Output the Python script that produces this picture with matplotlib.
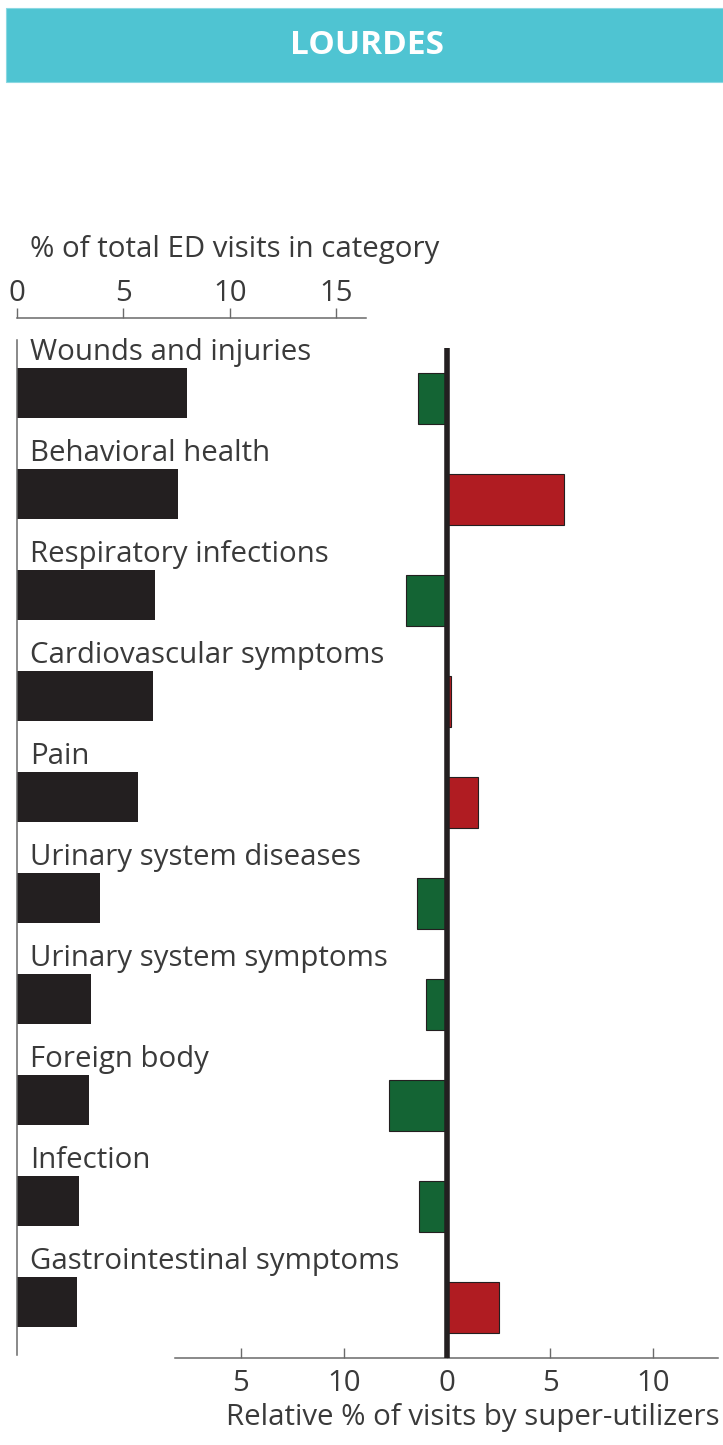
import matplotlib.pyplot as plt
from matplotlib.patches import Rectangle

# data
categories = ["Wounds and injuries", "Behavioral health", "Respiratory infections",
              "Cardiovascular symptoms", "Pain", "Urinary system diseases",
              "Urinary system symptoms", "Foreign body", "Infection",
              "Gastrointestinal symptoms"]
share = [8.0, 7.55, 6.5, 6.4, 5.7, 3.9, 3.5, 3.4, 2.9, 2.8]
relative = [-1.4, 5.7, -2.0, 0.2, 1.5, -1.45, -1.0, -2.8, -1.35, 2.5]
top_ticks = [0, 5, 10, 15]
bottom_ticks = [-10, -5, 0, 5, 10]
bottom_labels = ["5", "10", "0", "5", "10"]

W, H = 723, 1445
plt.rcParams['font.family'] = ['Open Sans', 'DejaVu Sans']
txt = "#3a3a3a"
axcol = "#6a6a6a"
dark = "#231f20"
green = "#146434"
red = "#b01c22"
fs = 21.2

fig = plt.figure(figsize=(W / 100, H / 100), dpi=100)

# title banner
fig.patches.append(Rectangle((6 / W, 1 - 82 / H), 717 / W, 74 / H, transform=fig.transFigure,
                             facecolor="#4fc4d2", edgecolor="#8ad8e2", lw=0.8))
fig.text(367 / W, 1 - 46 / H, "LOURDES", color="white", fontsize=24, fontweight="bold",
         ha="center", va="center")

# left: share of visits
ax1 = fig.add_axes([17 / W, 1 - 1355 / H, (366 - 17) / W, (1355 - 340) / H])
y = list(range(len(categories)))
ax1.barh(y, share, height=0.5, color=dark)
ax1.set_xlim(0, 16.4)
ax1.set_ylim(9.525, -0.525)
for i, c in enumerate(categories):
    ax1.text(0.6, i - 0.4, c, fontsize=fs, color=txt, va="center", ha="left", clip_on=False)
ax1.xaxis.tick_top()
ax1.set_xticks(top_ticks)
ax1.tick_params(axis="x", direction="out", length=7, width=1, color=axcol,
                labelsize=fs, labelcolor=txt, pad=0)
ax1.set_yticks([])
for s in ["bottom", "right"]:
    ax1.spines[s].set_visible(False)
ax1.spines["top"].set_position(("outward", 16))
ax1.spines["top"].set_color(axcol)
ax1.spines["left"].set_color(axcol)
ax1.spines["top"].set_linewidth(1.1)
ax1.spines["left"].set_linewidth(1.1)
ax1.patch.set_alpha(0)
fig.text(30 / W, 1 - 250 / H, "% of total ED visits in category", fontsize=fs, color=txt,
         va="center", ha="left")

# right: relative share by super-utilizers
ax2 = fig.add_axes([175 / W, 1 - 1358 / H, (718 - 175) / W, (1358 - 348) / H])
cols = [green if v < 0 else red for v in relative]
ax2.barh(y, relative, height=0.5, color=cols, edgecolor=dark, linewidth=0.8, zorder=2)
ax2.axvline(0, color=dark, lw=4, zorder=3)
ax2.set_xlim(-13.2, 13.15)
ax2.set_ylim(9.5, -0.5)
ax2.set_xticks(bottom_ticks)
ax2.set_xticklabels(bottom_labels)
ax2.tick_params(axis="x", direction="in", length=7, width=1, color=axcol,
                labelsize=fs, labelcolor=txt, pad=8)
ax2.set_yticks([])
for s in ["top", "right", "left"]:
    ax2.spines[s].set_visible(False)
ax2.spines["bottom"].set_color(axcol)
ax2.spines["bottom"].set_linewidth(1.1)
ax2.patch.set_alpha(0)
fig.text(720 / W, 1 - 1418 / H, "Relative % of visits by super-utilizers", fontsize=fs,
         color=txt, va="center", ha="right")

fig.savefig("out.png", dpi=100)
